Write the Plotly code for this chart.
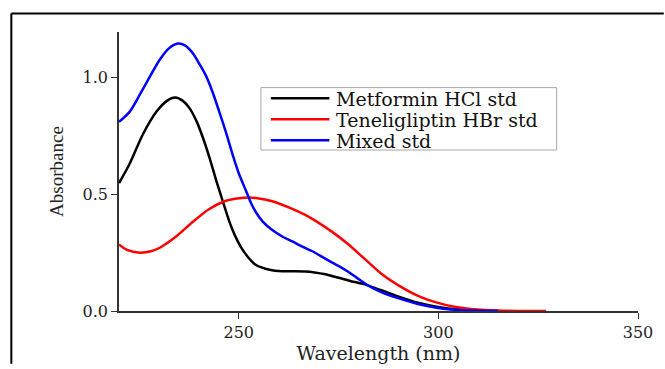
import plotly.graph_objects as go

# ---- data ----
series_names = ["Metformin HCl std", "Teneligliptin HBr std", "Mixed std"]
series_colors = ["#000000", "#FF0000", "#0000FF"]

metformin_wl = [220, 222.7, 226, 229.4, 232, 234.1, 236, 237.7, 239.5, 241, 242.7, 244.3, 246,
                247.6, 249, 250.5, 252.6, 254.3, 256, 258, 260, 263, 266.7, 269, 271.7, 274,
                276.6, 279, 281.6, 283.5, 285.7, 289.9, 294.9, 299.9, 305, 310, 315]
metformin_abs = [0.548, 0.632, 0.757, 0.854, 0.900, 0.914, 0.900, 0.868, 0.810, 0.743, 0.655, 0.562,
                 0.470, 0.385, 0.325, 0.275, 0.225, 0.197, 0.185, 0.176, 0.171, 0.170, 0.169, 0.165,
                 0.157, 0.147, 0.135, 0.124, 0.114, 0.102, 0.089, 0.0625, 0.035, 0.017, 0.006,
                 0.002, 0.0]

teneligliptin_wl = [220, 222, 225.2, 228, 230.2, 234.3, 238.5, 242.6, 246.8, 250.1, 252.5, 255,
                    258.4, 263.4, 268.3, 273.3, 277.5, 281.6, 285.7, 289.9, 294.9, 299.9, 304,
                    309.8, 315, 320, 327]
teneligliptin_abs = [0.285, 0.262, 0.250, 0.256, 0.271, 0.319, 0.382, 0.437, 0.472, 0.483, 0.486,
                     0.482, 0.470, 0.437, 0.396, 0.340, 0.285, 0.222, 0.160, 0.111, 0.065, 0.035,
                     0.018, 0.006, 0.002, 0.0005, 0.0]

mixed_wl = [220, 222.7, 226, 230.2, 232.5, 234.75, 236.5, 238.5, 240, 241.8, 243.5, 245.1, 246.8,
            248.4, 250, 251.8, 253, 254.3, 256, 258.4, 261, 263.4, 265.8, 268.3, 270.8, 273.3,
            275.5, 277.5, 279.5, 281.6, 283.5, 285.7, 289.9, 294.9, 299.9, 305, 310, 315]
mixed_abs = [0.81, 0.854, 0.951, 1.076, 1.125, 1.146, 1.138, 1.104, 1.062, 1.007, 0.935, 0.854,
             0.765, 0.673, 0.590, 0.515, 0.465, 0.423, 0.383, 0.347, 0.318, 0.298, 0.277, 0.257,
             0.233, 0.208, 0.188, 0.167, 0.143, 0.118, 0.099, 0.081, 0.055, 0.030, 0.013, 0.004,
             0.001, 0.0]

x_ticks = [250, 300, 350]
y_ticks = [0.0, 0.5, 1.0]
x_title = "Wavelength (nm)"
y_title = "Absorbance"

# ---- figure ----
W, H = 665, 369
ML, MR, MT, MB = 119, 23, 32, 51
WIDE = "DejaVu Serif, serif"
NARROW = "Liberation Serif, Times New Roman, serif"

fig = go.Figure()
for name, color, xs, ys in zip(series_names, series_colors,
                               [metformin_wl, teneligliptin_wl, mixed_wl],
                               [metformin_abs, teneligliptin_abs, mixed_abs]):
    fig.add_trace(go.Scatter(x=xs, y=ys, mode="lines", name=name, showlegend=False,
                             line=dict(color=color, width=2.5, shape="spline", smoothing=0.8)))

pw = W - ML - MR
ph = H - MT - MB


def px2paper_x(px):
    return (px - ML) / pw


def px2paper_y(py):
    return (H - MB - py) / ph


# outer frame (top and left edges of the original figure border)
fig.add_shape(type="line", xref="paper", yref="paper",
              x0=px2paper_x(10.5), x1=px2paper_x(668), y0=px2paper_y(13), y1=px2paper_y(13),
              line=dict(color="black", width=2))
fig.add_shape(type="line", xref="paper", yref="paper",
              x0=px2paper_x(10.5), x1=px2paper_x(10.5), y0=px2paper_y(13), y1=px2paper_y(372),
              line=dict(color="black", width=2))

# legend box drawn by hand
fig.add_shape(type="rect", xref="paper", yref="paper",
              x0=px2paper_x(262), x1=px2paper_x(560), y0=px2paper_y(89), y1=px2paper_y(153),
              line=dict(color="#A8A8A8", width=1), fillcolor="white", layer="above")
row_y = [100, 121.5, 143]
for name, color, ry in zip(series_names, series_colors, row_y):
    fig.add_shape(type="line", xref="paper", yref="paper",
                  x0=px2paper_x(272), x1=px2paper_x(331), y0=px2paper_y(ry), y1=px2paper_y(ry),
                  line=dict(color=color, width=2.5), layer="above")
    fig.add_annotation(xref="paper", yref="paper", x=px2paper_x(336), y=px2paper_y(ry + 1),
                       xanchor="left", yanchor="middle", showarrow=False, text=name,
                       font=dict(family=WIDE, size=19, color="#111111"))

fig.update_layout(
    width=W, height=H,
    margin=dict(l=ML, r=MR, t=MT, b=MB, pad=0),
    paper_bgcolor="white", plot_bgcolor="white",
    font=dict(family=WIDE, color="#222222", size=16),
    showlegend=False,
    xaxis=dict(range=[220, 350], tickvals=x_ticks, ticks="outside", ticklen=6, tickwidth=1.2,
               tickcolor="#333333", showline=True, linecolor="#333333", linewidth=1.5,
               showgrid=False, zeroline=False, tickfont=dict(size=16),
               title=dict(text=x_title, font=dict(size=19), standoff=2)),
    yaxis=dict(range=[0, 1.195], tickvals=y_ticks, tickformat=".1f", ticks="outside", ticklen=6,
               tickwidth=1.2, tickcolor="#333333", showline=True, linecolor="#333333",
               linewidth=1.5, showgrid=False, zeroline=False, tickfont=dict(size=16),
               title=dict(text=y_title, font=dict(family=NARROW, size=19), standoff=14)),
)

fig.write_html("out.html")
